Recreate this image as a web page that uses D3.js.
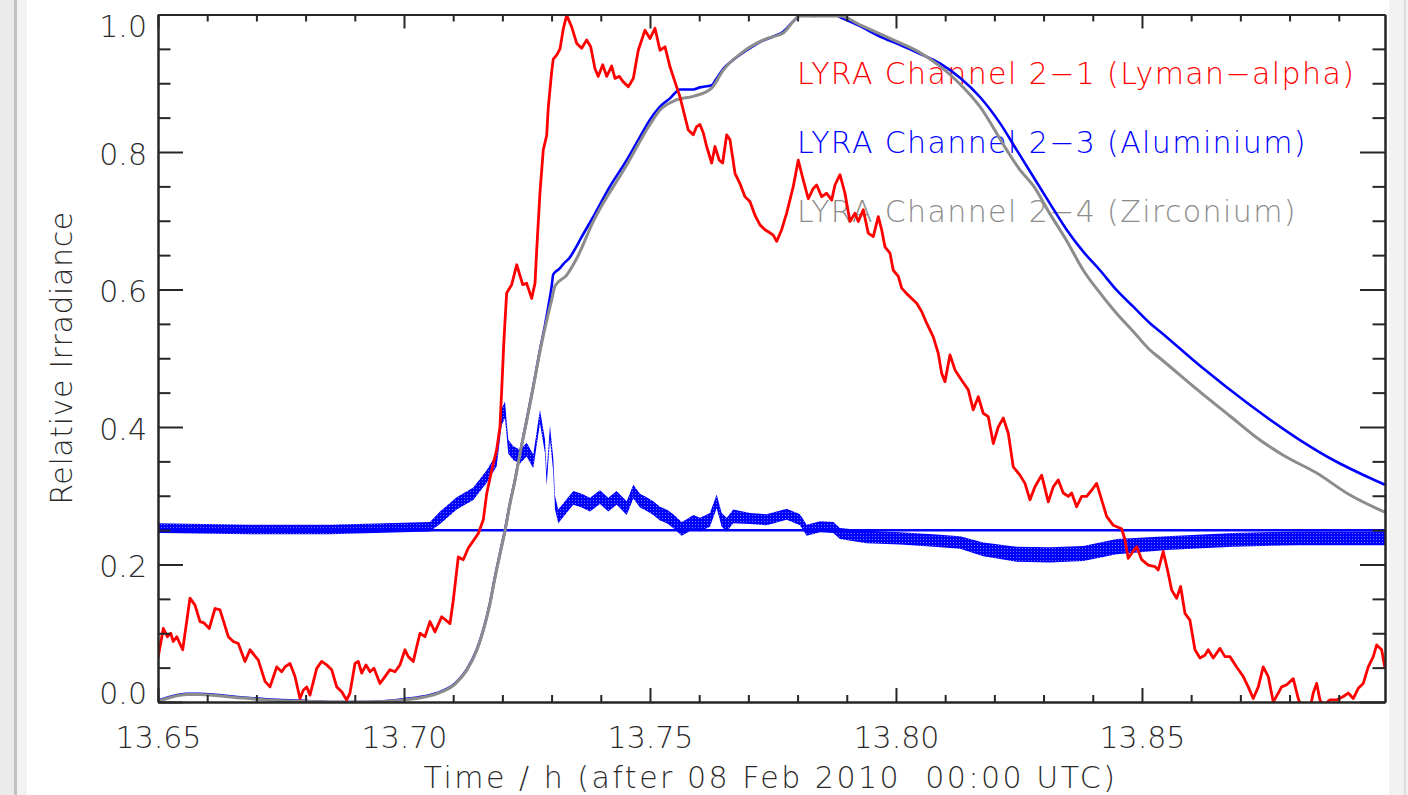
<!DOCTYPE html>
<html><head><meta charset="utf-8">
<script src="https://cdn.jsdelivr.net/npm/d3@7"></script>
<style>
html,body{margin:0;padding:0;background:#fff;}
svg{display:block;}
text{font-family:"DejaVu Sans",sans-serif;}
</style></head><body>
<svg id="chart" width="1408" height="795"></svg>
<script>
// ---------------- DATA ----------------
const xMin = 13.65, xMax = 13.8994;
const xMajorTicks = [13.65, 13.70, 13.75, 13.80, 13.85];
const xMinorTicks = [13.66,13.67,13.68,13.69,13.71,13.72,13.73,13.74,13.76,13.77,13.78,13.79,13.81,13.82,13.83,13.84,13.86,13.87,13.88,13.89];
const yMajorTicks = [0.0, 0.2, 0.4, 0.6, 0.8, 1.0];
const yMinorTicks = [0.05,0.1,0.15,0.25,0.3,0.35,0.45,0.5,0.55,0.65,0.7,0.75,0.85,0.9,0.95];
const baselineLevel = 0.25;

const seriesNames = ["LYRA Channel 2\u22121 (Lyman\u2212alpha)", "LYRA Channel 2\u22123 (Aluminium)", "LYRA Channel 2\u22124 (Zirconium)"];
const seriesColors = ["#ff0000", "#0000ff", "#8c8c8c"];

// Channel 2-1 (Lyman-alpha), time in h
const lyaT = [13.65000,13.65108,13.65189,13.65258,13.65311,13.65380,13.65502,13.65650,13.65752,13.65854,
13.65935,13.66043,13.66159,13.66260,13.66429,13.66530,13.66632,13.66768,13.66870,13.67039,
13.67175,13.67276,13.67413,13.67514,13.67581,13.67683,13.67785,13.67886,13.67953,13.68022,
13.68089,13.68226,13.68327,13.68429,13.68530,13.68632,13.68734,13.68835,13.68902,13.69004,
13.69071,13.69140,13.69228,13.69309,13.69390,13.69512,13.69614,13.69715,13.69817,13.69919,
13.70020,13.70087,13.70189,13.70258,13.70325,13.70427,13.70528,13.70630,13.70766,13.70935,
13.71002,13.71104,13.71205,13.71307,13.71443,13.71510,13.71612,13.71681,13.71782,13.71884,
13.71951,13.71986,13.72032,13.72087,13.72189,13.72291,13.72413,13.72494,13.72595,13.72663,
13.72697,13.72764,13.72831,13.72900,13.72933,13.73002,13.73034,13.73103,13.73171,13.73238,
13.73307,13.73408,13.73510,13.73612,13.73713,13.73795,13.73882,13.73949,13.74039,13.74120,
13.74222,13.74289,13.74376,13.74457,13.74559,13.74661,13.74762,13.74898,13.75000,13.75102,
13.75203,13.75305,13.75406,13.75508,13.75610,13.75677,13.75778,13.75880,13.75949,13.76016,
13.76083,13.76152,13.76254,13.76321,13.76408,13.76477,13.76559,13.76626,13.76728,13.76829,
13.76931,13.77032,13.77134,13.77236,13.77337,13.77405,13.77506,13.77575,13.77677,13.77778,
13.77913,13.78014,13.78116,13.78218,13.78319,13.78388,13.78490,13.78591,13.78693,13.78760,
13.78862,13.78963,13.79065,13.79167,13.79234,13.79335,13.79437,13.79539,13.79640,13.79709,
13.79776,13.79878,13.79945,13.80047,13.80116,13.80217,13.80319,13.80421,13.80522,13.80624,
13.80758,13.80860,13.80929,13.80996,13.81098,13.81199,13.81335,13.81470,13.81571,13.81673,
13.81774,13.81876,13.81978,13.82079,13.82181,13.82283,13.82384,13.82520,13.82622,13.82723,
13.82825,13.82961,13.83096,13.83197,13.83299,13.83400,13.83502,13.83571,13.83672,13.83774,
13.83876,13.83977,13.84079,13.84181,13.84282,13.84417,13.84587,13.84654,13.84721,13.84790,
13.84892,13.84994,13.85128,13.85264,13.85331,13.85433,13.85535,13.85603,13.85705,13.85786,
13.85874,13.85975,13.86077,13.86179,13.86280,13.86347,13.86449,13.86585,13.86687,13.86788,
13.86924,13.87059,13.87160,13.87262,13.87364,13.87465,13.87567,13.87669,13.87770,13.87839,
13.87941,13.88075,13.88177,13.88252,13.88414,13.88482,13.88551,13.88618,13.88685,13.88821,
13.88957,13.89092,13.89193,13.89295,13.89397,13.89498,13.89600,13.89702,13.89771,13.89872,
13.89939];
const lyaV = [0.064,0.107,0.095,0.100,0.088,0.095,0.076,0.151,0.141,0.117,
0.115,0.107,0.136,0.134,0.095,0.088,0.085,0.059,0.076,0.061,
0.030,0.022,0.051,0.044,0.051,0.056,0.037,0.005,0.017,0.022,
0.010,0.049,0.059,0.054,0.047,0.022,0.015,0.003,0.013,0.056,
0.059,0.042,0.054,0.044,0.049,0.027,0.037,0.047,0.044,0.054,
0.076,0.066,0.059,0.080,0.100,0.095,0.117,0.102,0.124,0.114,
0.148,0.211,0.207,0.224,0.238,0.245,0.265,0.303,0.337,0.367,
0.400,0.454,0.527,0.595,0.607,0.636,0.607,0.609,0.587,0.609,
0.657,0.741,0.803,0.824,0.865,0.917,0.935,0.941,0.950,0.979,
0.999,0.982,0.958,0.951,0.963,0.953,0.921,0.910,0.927,0.910,
0.925,0.907,0.910,0.902,0.895,0.907,0.948,0.977,0.965,0.980,
0.948,0.953,0.924,0.902,0.880,0.861,0.832,0.825,0.837,0.840,
0.828,0.808,0.784,0.808,0.788,0.784,0.825,0.818,0.769,0.754,
0.735,0.728,0.708,0.694,0.687,0.684,0.679,0.670,0.687,0.711,
0.750,0.788,0.759,0.732,0.747,0.752,0.735,0.740,0.730,0.752,
0.767,0.740,0.699,0.711,0.699,0.716,0.682,0.677,0.706,0.687,
0.662,0.653,0.628,0.619,0.602,0.594,0.587,0.580,0.568,0.551,
0.531,0.507,0.478,0.466,0.505,0.483,0.468,0.454,0.425,0.444,
0.420,0.415,0.376,0.400,0.413,0.391,0.342,0.330,0.318,0.294,
0.313,0.330,0.291,0.313,0.323,0.304,0.299,0.304,0.284,0.299,
0.299,0.308,0.318,0.294,0.270,0.257,0.252,0.236,0.209,0.216,
0.226,0.207,0.199,0.197,0.192,0.219,0.187,0.163,0.151,0.168,
0.129,0.119,0.076,0.064,0.068,0.076,0.064,0.078,0.066,0.066,
0.051,0.037,0.022,0.005,0.022,0.051,0.037,0.000,0.013,0.022,
0.025,0.034,0.005,-0.010,-0.010,0.013,0.027,0.003,-0.005,0.003,
0.003,0.008,0.013,0.005,0.020,0.027,0.051,0.066,0.083,0.076,
0.049];

// Channel 2-3 (Aluminium), smooth
const alT = [13.65000,13.65583,13.65854,13.66524,13.67209,13.67886,13.68557,13.69242,13.69986,13.70528,
13.70665,13.71037,13.71274,13.71478,13.71612,13.71748,13.71850,13.71951,13.72053,13.72154,
13.72256,13.72358,13.72494,13.72628,13.72764,13.72866,13.72933,13.73002,13.73034,13.73171,
13.73238,13.73374,13.73510,13.73577,13.73848,13.74187,13.74526,13.74797,13.75000,13.75203,
13.75406,13.75610,13.75880,13.76016,13.76254,13.76356,13.76490,13.76693,13.76965,13.77236,
13.77506,13.77709,13.77913,13.78083,13.78319,13.78726,13.78929,13.79268,13.79675,13.80081,
13.80453,13.80894,13.81301,13.81707,13.82114,13.82453,13.82791,13.83130,13.83469,13.83807,
13.84146,13.84486,13.84823,13.85162,13.85366,13.86179,13.87195,13.88211,13.88888,13.89567,
13.89939];
const alV = [0.002,0.012,0.012,0.008,0.004,0.002,0.000,0.000,0.004,0.010,
0.013,0.027,0.047,0.076,0.105,0.144,0.182,0.216,0.250,0.289,
0.323,0.362,0.410,0.459,0.512,0.548,0.575,0.605,0.622,0.631,
0.637,0.647,0.663,0.672,0.706,0.750,0.788,0.822,0.847,0.866,
0.878,0.891,0.891,0.894,0.897,0.907,0.921,0.934,0.948,0.960,
0.968,0.975,0.990,1.000,0.998,1.000,0.994,0.983,0.968,0.956,
0.944,0.929,0.908,0.880,0.842,0.803,0.764,0.725,0.687,0.655,
0.628,0.599,0.575,0.551,0.539,0.489,0.432,0.381,0.352,0.328,
0.316];

// Channel 2-4 (Zirconium), smooth
const zrT = [13.65000,13.65583,13.65854,13.66524,13.67209,13.67886,13.68557,13.69242,13.69986,13.70528,
13.70665,13.71037,13.71274,13.71478,13.71612,13.71748,13.71850,13.71951,13.72053,13.72154,
13.72256,13.72358,13.72494,13.72628,13.72764,13.72866,13.72933,13.73002,13.73069,13.73307,
13.73510,13.73848,13.74526,13.75000,13.75203,13.75543,13.75880,13.76254,13.76490,13.76896,
13.77372,13.77709,13.78049,13.78319,13.78862,13.79268,13.79945,13.80453,13.80894,13.81301,
13.81707,13.82250,13.82520,13.82791,13.83130,13.83469,13.83807,13.84146,13.84486,13.84823,
13.85162,13.85366,13.86179,13.86788,13.87398,13.87872,13.88551,13.89228,13.89939];
const zrV = [0.001,0.011,0.011,0.007,0.003,0.001,0.000,0.000,0.003,0.009,
0.012,0.026,0.046,0.075,0.104,0.143,0.181,0.215,0.249,0.288,
0.322,0.361,0.409,0.458,0.510,0.544,0.565,0.585,0.605,0.621,
0.645,0.699,0.781,0.840,0.861,0.876,0.881,0.893,0.919,0.946,
0.965,0.973,0.998,0.998,0.998,0.985,0.963,0.946,0.925,0.899,
0.866,0.803,0.774,0.751,0.710,0.671,0.628,0.595,0.565,0.539,
0.512,0.500,0.451,0.416,0.381,0.359,0.333,0.301,0.276];

// Noisy channel (blue dots): band centre and half-spread
const bandT = [13.65000,13.66870,13.68496,13.70528,13.70732,13.71071,13.71409,13.71681,13.71884,13.71986,
13.72053,13.72120,13.72222,13.72358,13.72494,13.72628,13.72764,13.72866,13.72900,13.72967,
13.73034,13.73069,13.73136,13.73238,13.73441,13.73612,13.73780,13.73984,13.74152,13.74323,
13.74526,13.74661,13.74797,13.74933,13.75067,13.75203,13.75339,13.75474,13.75644,13.75746,
13.75880,13.76016,13.76219,13.76356,13.76457,13.76559,13.76693,13.77032,13.77372,13.77778,
13.78049,13.78185,13.78455,13.78726,13.78862,13.79404,13.80081,13.80758,13.81301,13.81774,
13.82453,13.83130,13.83807,13.84486,13.85502,13.86855,13.88211,13.89939];
const bandMid = [0.253,0.251,0.251,0.255,0.268,0.289,0.303,0.328,0.352,0.415,
0.425,0.371,0.362,0.357,0.367,0.350,0.415,0.372,0.325,0.392,
0.345,0.290,0.270,0.279,0.297,0.293,0.287,0.298,0.287,0.297,
0.282,0.306,0.293,0.288,0.282,0.274,0.270,0.263,0.252,0.256,
0.262,0.258,0.265,0.292,0.265,0.258,0.270,0.267,0.265,0.273,
0.265,0.250,0.255,0.254,0.245,0.240,0.238,0.235,0.232,0.222,
0.215,0.214,0.216,0.226,0.231,0.236,0.238,0.238];
const bandHalf = [0.007,0.007,0.007,0.007,0.009,0.009,0.009,0.009,0.009,0.012,
0.012,0.010,0.010,0.010,0.010,0.010,0.010,0.010,0.010,0.010,
0.010,0.010,0.010,0.010,0.010,0.010,0.010,0.010,0.010,0.010,
0.010,0.010,0.010,0.010,0.010,0.010,0.010,0.010,0.010,0.010,
0.010,0.010,0.010,0.010,0.010,0.010,0.010,0.008,0.008,0.008,
0.008,0.008,0.008,0.008,0.008,0.009,0.009,0.009,0.009,0.010,
0.011,0.011,0.011,0.011,0.010,0.010,0.010,0.010];

// ---------------- CHART ----------------
const W = 1408, H = 795;
const M = {left:158, right:1385, top:14.5, bottom:702};
const x = d3.scaleLinear().domain([xMin, xMax]).range([M.left, M.right]);
const y = d3.scaleLinear().domain([0, 1]).range([M.bottom, M.top]);
const svg = d3.select("#chart");
const AX = "#262626";

// window frame bands
svg.append("rect").attr("x",0).attr("y",0).attr("width",27).attr("height",H).attr("fill","#f2f2f2");
svg.append("rect").attr("x",0).attr("y",0).attr("width",14).attr("height",H).attr("fill","#ebebeb");
svg.append("rect").attr("x",14).attr("y",0).attr("width",3).attr("height",H).attr("fill","#c2c2c2");
svg.append("rect").attr("x",1389).attr("y",0).attr("width",19).attr("height",H).attr("fill","#f2f2f2");
svg.append("rect").attr("x",1404).attr("y",0).attr("width",2).attr("height",H).attr("fill","#dcdcdc");

const defs = svg.append("defs");
defs.append("clipPath").attr("id","plotclip").append("rect")
  .attr("x",M.left).attr("y",M.top).attr("width",M.right-M.left).attr("height",M.bottom-M.top);
const pat = defs.append("pattern").attr("id","dots").attr("patternUnits","userSpaceOnUse")
  .attr("width",3).attr("height",3);
pat.append("rect").attr("x",0).attr("y",0).attr("width",3).attr("height",2).attr("fill","#0000ff");
pat.append("rect").attr("x",0).attr("y",2).attr("width",2).attr("height",1).attr("fill","#0000ff");
pat.append("rect").attr("x",2).attr("y",2).attr("width",1).attr("height",1).attr("fill","#7070ff");

// legend texts (drawn beneath the curves)
const legend = svg.append("g");
seriesNames.forEach((s,i) => {
  legend.append("text").attr("x",797).attr("y",83.5 + i*69)
    .attr("fill",seriesColors[i]).attr("font-size",30).attr("letter-spacing",1.4)
    .attr("font-weight",300).text(s);
});

const plot = svg.append("g").attr("clip-path","url(#plotclip)");

// noisy band
const bandData = bandT.map((t,i)=>({t, m:bandMid[i], h:bandHalf[i]}));
plot.append("path").datum(bandData)
  .attr("d", d3.area().x(d=>x(d.t)).y0(d=>y(d.m-d.h)).y1(d=>y(d.m+d.h)))
  .attr("fill","url(#dots)");

// baseline level
plot.append("line").attr("x1",x(xMin)).attr("x2",x(xMax))
  .attr("y1",y(baselineLevel)).attr("y2",y(baselineLevel))
  .attr("stroke","#0000ff").attr("stroke-width",2.5);

const line = d3.line().x(d=>x(d[0])).y(d=>y(d[1]));
plot.append("path").datum(alT.map((t,i)=>[t,alV[i]]))
  .attr("d", line.curve(d3.curveMonotoneX)).attr("fill","none")
  .attr("stroke","#0000ff").attr("stroke-width",2.6);
plot.append("path").datum(zrT.map((t,i)=>[t,zrV[i]]))
  .attr("d", line.curve(d3.curveMonotoneX)).attr("fill","none")
  .attr("stroke","#8c8c8c").attr("stroke-width",3);
plot.append("path").datum(lyaT.map((t,i)=>[t,lyaV[i]]))
  .attr("d", d3.line().x(d=>x(d[0])).y(d=>y(d[1]))).attr("fill","none")
  .attr("stroke","#ff0000").attr("stroke-width",2.8).attr("stroke-linejoin","round");

// axes
function styleAxis(g){
  g.select(".domain").attr("stroke",AX).attr("stroke-width",2);
  g.selectAll(".tick line").attr("stroke",AX).attr("stroke-width",2);
  g.selectAll(".tick text").attr("fill","#2a2a2a").attr("font-size",30)
   .attr("font-family","DejaVu Sans, sans-serif").attr("font-weight",300);
}
const gB = svg.append("g").attr("transform",`translate(0,${M.bottom})`)
  .call(d3.axisBottom(x).tickValues(xMajorTicks).tickFormat(d3.format(".2f"))
    .tickSizeInner(-14).tickSizeOuter(0).tickPadding(25));
styleAxis(gB);
const gBm = svg.append("g").attr("transform",`translate(0,${M.bottom})`)
  .call(d3.axisBottom(x).tickValues(xMinorTicks).tickFormat("").tickSizeInner(-7).tickSizeOuter(0));
styleAxis(gBm);
const gT = svg.append("g").attr("transform",`translate(0,${M.top})`)
  .call(d3.axisTop(x).tickValues(xMajorTicks).tickFormat("").tickSizeInner(-14).tickSizeOuter(0));
styleAxis(gT);
const gTm = svg.append("g").attr("transform",`translate(0,${M.top})`)
  .call(d3.axisTop(x).tickValues(xMinorTicks).tickFormat("").tickSizeInner(-7).tickSizeOuter(0));
styleAxis(gTm);

const gL = svg.append("g").attr("transform",`translate(${M.left},0)`)
  .call(d3.axisLeft(y).tickValues(yMajorTicks).tickFormat(d3.format(".1f"))
    .tickSizeInner(-25).tickSizeOuter(0).tickPadding(11));
styleAxis(gL);
gL.selectAll(".tick text").attr("dy", d => {
  const p = y(d);
  const base = Math.min(Math.max(p + 12, M.top + 22), M.bottom + 1);
  return (base - p) + "px";
});
const gLm = svg.append("g").attr("transform",`translate(${M.left},0)`)
  .call(d3.axisLeft(y).tickValues(yMinorTicks).tickFormat("").tickSizeInner(-12.5).tickSizeOuter(0));
styleAxis(gLm);
const gR = svg.append("g").attr("transform",`translate(${M.right},0)`)
  .call(d3.axisRight(y).tickValues(yMajorTicks).tickFormat("").tickSizeInner(-25).tickSizeOuter(0));
styleAxis(gR);
const gRm = svg.append("g").attr("transform",`translate(${M.right},0)`)
  .call(d3.axisRight(y).tickValues(yMinorTicks).tickFormat("").tickSizeInner(-12.5).tickSizeOuter(0));
styleAxis(gRm);

// axis titles
svg.append("text").attr("x",(M.left+M.right)/2 - 1).attr("y",788)
  .attr("text-anchor","middle").attr("font-size",30).attr("letter-spacing",2.5)
  .attr("fill","#2a2a2a").attr("font-weight",300).style("white-space","pre")
  .text("Time / h (after 08 Feb 2010  00:00 UTC)");
svg.append("text").attr("transform","translate(72,358) rotate(-90)")
  .attr("text-anchor","middle").attr("font-size",30).attr("letter-spacing",0.6)
  .attr("fill","#2a2a2a").attr("font-weight",300)
  .text("Relative Irradiance");
</script>
</body></html>
